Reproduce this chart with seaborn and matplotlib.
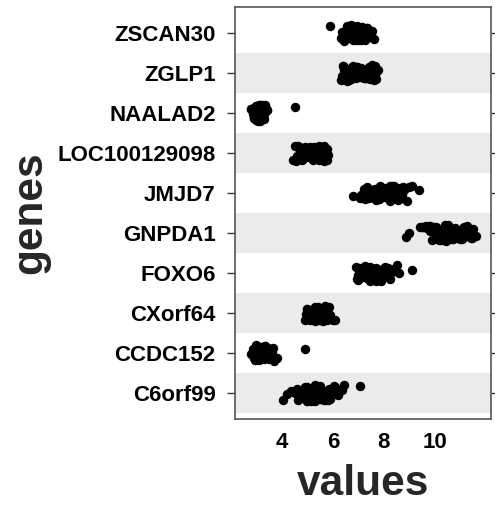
import matplotlib

matplotlib.use("Agg")
import matplotlib.pyplot as plt
import numpy as np
import pandas as pd
import seaborn as sns

GENES = ["ZSCAN30", "ZGLP1", "NAALAD2", "LOC100129098", "JMJD7",
         "GNPDA1", "FOXO6", "CXorf64", "CCDC152", "C6orf99"]

ZSCAN30 = [5.9, 6.3, 6.35, 6.4, 6.45, 6.5, 6.5, 6.55, 6.6, 6.6, 6.65, 6.7, 6.7, 6.75,
           6.8, 6.8, 6.85, 6.9, 6.9, 6.95, 7.0, 7.0, 7.05, 7.1, 7.1, 7.15, 7.2, 7.2,
           7.25, 7.3, 7.35, 7.4, 7.45, 7.5, 7.55, 7.6, 6.4, 6.75, 7.0, 7.3,
           6.45, 6.55, 6.65, 6.85, 6.95, 7.05, 7.15, 7.25, 7.35, 7.45, 6.6, 6.8,
           7.0, 7.2, 7.4, 6.7, 6.9, 7.1, 7.3, 7.5]
ZGLP1 = [6.3, 6.35, 6.4, 6.45, 6.5, 6.5, 6.55, 6.6, 6.65, 6.7, 6.7, 6.75, 6.8, 6.85,
         6.9, 6.9, 6.95, 7.0, 7.0, 7.05, 7.1, 7.15, 7.2, 7.2, 7.25, 7.3, 7.35, 7.4,
         7.45, 7.5, 7.55, 7.6, 7.65, 7.7, 7.75, 6.6, 6.9, 7.1, 7.4, 7.6,
         6.4, 6.55, 6.75, 6.85, 7.05, 7.15, 7.3, 7.45, 7.55, 7.7, 6.5, 6.8,
         7.0, 7.25, 7.5, 6.65, 6.95, 7.35, 7.65, 6.45]
NAALAD2 = [2.8, 2.85, 2.9, 2.9, 2.95, 3.0, 3.0, 3.0, 3.05, 3.05, 3.1, 3.1, 3.1, 3.15,
           3.15, 3.2, 3.2, 3.2, 3.25, 3.25, 3.3, 3.3, 3.35, 3.4, 2.9, 3.0, 3.1, 3.2,
           3.3, 3.05, 3.15, 2.95, 3.25, 3.35, 3.1, 2.85, 2.95, 3.05, 3.15, 3.25,
           3.35, 2.9, 3.0, 3.1, 3.2, 3.3, 3.0, 3.1, 3.2, 2.8, 3.4, 4.5]
LOC100129098 = [4.45, 4.5, 4.6, 4.65, 4.7, 4.75, 4.8, 4.85, 4.9, 4.95, 5.0, 5.0, 5.05,
                5.1, 5.1, 5.15, 5.2, 5.2, 5.25, 5.3, 5.3, 5.35, 5.4, 5.4, 5.45, 5.5,
                5.5, 5.55, 5.6, 5.65, 5.7, 5.75, 5.8, 4.7, 5.0, 5.3, 5.6, 4.9,
                4.55, 4.8, 5.05, 5.25, 5.45, 5.65, 4.65, 4.95, 5.15, 5.35, 5.55, 5.75,
                4.85, 5.1, 5.4, 5.7, 5.2, 5.5]
JMJD7 = [6.8, 7.05, 7.1, 7.2, 7.3, 7.35, 7.4, 7.45, 7.5, 7.55, 7.6, 7.65, 7.7, 7.75,
         7.8, 7.85, 7.9, 7.95, 8.0, 8.05, 8.1, 8.15, 8.2, 8.25, 8.3, 8.35, 8.4, 8.45,
         8.5, 8.6, 8.7, 8.8, 8.9, 9.0, 9.1, 7.6, 7.9, 8.2, 8.5, 9.37,
         7.25, 7.45, 7.65, 7.85, 8.05, 8.25, 8.45, 8.65, 7.5, 7.8, 8.1, 8.4,
         8.75, 7.7, 8.0, 8.3, 8.55, 7.4]
GNPDA1 = [8.86, 9.0, 9.4, 9.5, 9.6, 9.7, 9.75, 9.8, 9.9, 9.95, 10.0, 10.05, 10.1, 10.2,
          10.25, 10.3, 10.4, 10.45, 10.5, 10.55, 10.6, 10.7, 10.75, 10.8, 10.85, 10.9,
          11.0, 11.05, 11.1, 11.15, 11.2, 11.3, 11.35, 11.4, 11.5, 11.6, 9.8, 10.3,
          10.8, 11.2, 9.55, 9.85, 10.15, 10.35, 10.65, 10.95, 11.25, 11.45, 9.65,
          10.0, 10.5, 10.9, 11.1, 9.9, 10.4, 10.7, 11.3, 10.2]
FOXO6 = [6.9, 6.95, 7.0, 7.05, 7.1, 7.15, 7.2, 7.25, 7.3, 7.35, 7.4, 7.45, 7.5, 7.55,
         7.6, 7.65, 7.7, 7.75, 7.8, 7.85, 7.9, 7.95, 8.0, 8.05, 8.1, 8.15, 8.2, 8.3,
         8.4, 8.5, 8.6, 7.3, 7.6, 7.9, 8.15, 7.0, 7.2, 7.4, 7.55, 7.7, 7.85, 8.0,
         8.25, 7.1, 7.45, 7.75, 8.1, 7.35, 7.65, 7.95, 9.1]
CXorf64 = [4.9, 4.95, 5.0, 5.05, 5.1, 5.15, 5.2, 5.2, 5.25, 5.3, 5.3, 5.35, 5.4, 5.4,
           5.45, 5.5, 5.5, 5.55, 5.6, 5.6, 5.65, 5.7, 5.75, 5.8, 5.85, 5.9, 6.0, 6.1,
           5.1, 5.3, 5.5, 5.7, 5.4, 5.0, 5.15, 5.25, 5.35, 5.45, 5.55, 5.65, 5.75,
           5.2, 5.4, 5.6, 5.3, 5.5]
CCDC152 = [2.8, 2.85, 2.9, 2.95, 3.0, 3.0, 3.05, 3.1, 3.1, 3.15, 3.2, 3.2, 3.25, 3.3,
           3.3, 3.35, 3.4, 3.45, 3.5, 3.55, 3.6, 3.7, 3.8, 2.9, 3.1, 3.25, 3.4, 3.15,
           3.05, 3.35, 2.95, 3.05, 3.15, 3.25, 3.35, 3.45, 3.0, 3.2, 3.3, 3.1,
           3.5, 3.65, 4.9]
C6orf99 = [4.05, 4.2, 4.35, 4.5, 4.6, 4.7, 4.75, 4.8, 4.85, 4.9, 4.95, 5.0, 5.0, 5.05,
           5.1, 5.1, 5.15, 5.2, 5.2, 5.25, 5.3, 5.3, 5.35, 5.4, 5.45, 5.5, 5.5, 5.55,
           5.6, 5.65, 5.7, 5.75, 5.8, 5.9, 6.0, 6.1, 6.2, 6.35, 6.45, 5.0, 5.3, 5.6,
           4.9, 5.4, 4.65, 4.85, 5.05, 5.25, 5.45, 5.65, 5.85, 6.05, 4.95, 5.15,
           5.35, 5.55, 5.75, 5.2, 5.5, 7.06]

X_TICKS = [4, 6, 8, 10]

values_by_gene = [ZSCAN30, ZGLP1, NAALAD2, LOC100129098, JMJD7,
                  GNPDA1, FOXO6, CXorf64, CCDC152, C6orf99]

df = pd.DataFrame(
    [(g, v) for g, vals in zip(GENES, values_by_gene) for v in vals],
    columns=["genes", "values"],
)

sns.set_style("white")
plt.rcParams["font.family"] = ["Liberation Sans", "DejaVu Sans"]
plt.rcParams["font.weight"] = "bold"

np.random.seed(7)
fig = plt.figure(figsize=(4.95, 5.08), dpi=100)
ax = fig.add_axes([0.4747, 0.175, 0.5173, 0.811])

# alternating row bands, grey from the bottom row
for i in range(len(GENES)):
    if i % 2 == 1:
        ax.axhspan(i - 0.5, i + 0.5, color="#ebebeb", lw=0, zorder=0)

sns.stripplot(
    data=df, x="values", y="genes", order=GENES, color="black",
    size=6.8, linewidth=0, jitter=0.2, ax=ax, zorder=3,
)

ax.set_xlim(2.16, 12.2)
ax.set_ylim(len(GENES) - 0.35, -0.65)
ax.set_xticks(X_TICKS)
ax.set_xticklabels([str(t) for t in X_TICKS])

ax.tick_params(axis="x", length=0, pad=9, labelsize=16, colors="black")
ax.tick_params(axis="y", length=6, width=1, pad=8, labelsize=16,
               colors="#333333", labelcolor="black", right=True, left=True)
for lab in ax.get_xticklabels() + ax.get_yticklabels():
    lab.set_fontweight("bold")

for spine in ax.spines.values():
    spine.set_visible(True)
    spine.set_color("#555555")
    spine.set_linewidth(1.2)

ax.set_xlabel("values", fontsize=30.5, fontweight="bold")
ax.set_ylabel("genes", fontsize=30.5, fontweight="bold")
ax.xaxis.set_label_coords(0.5, -0.11)
ax.yaxis.set_label_coords(-0.72, 0.5)

fig.savefig("out.png", dpi=100)
